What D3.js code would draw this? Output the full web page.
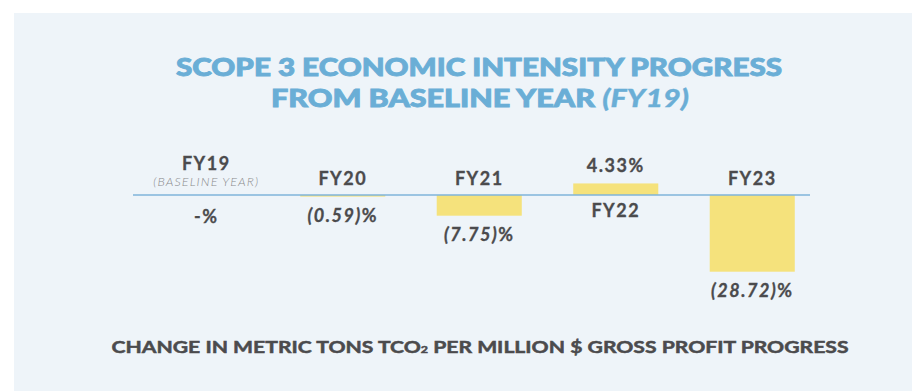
<!DOCTYPE html>
<html>
<head>
<meta charset="utf-8">
<script src="https://cdn.jsdelivr.net/npm/d3@7"></script>
<style>
  html, body { margin: 0; padding: 0; background: #fff; }
  svg { display: block; font-family: "Lato", "Open Sans", sans-serif; }
</style>
</head>
<body>
<svg id="chart" width="912" height="391"></svg>
<script>
var years = ['FY19', 'FY20', 'FY21', 'FY22', 'FY23']
var changes = [0, -0.59, -7.75, 4.33, -28.72]
var valueLabels = ['-', '(0.59)', '(7.75)', '4.33', '(28.72)']

var svg = d3.select('#chart'),
    width = +svg.attr('width'),
    height = +svg.attr('height'),
    axisY = 195,
    dark = '#4b4b4d',
    blue = '#6aaed6'

// panel
svg.append('rect')
    .attr('x', 14).attr('y', 13)
    .attr('width', width - 14).attr('height', height - 13)
    .attr('fill', '#eef4f9')

// title
var title = svg.append('g')
    .attr('fill', blue)
    .attr('stroke', blue).attr('stroke-width', 0.9)
    .attr('font-weight', 900)
    .attr('font-size', 25)
    .attr('text-anchor', 'middle')
title.append('text')
    .attr('x', 479).attr('y', 76)
    .attr('textLength', 606).attr('lengthAdjust', 'spacingAndGlyphs')
    .text('SCOPE 3 ECONOMIC INTENSITY PROGRESS')
var t2 = title.append('text')
    .attr('x', 480).attr('y', 107)
    .attr('textLength', 418).attr('lengthAdjust', 'spacingAndGlyphs')
t2.append('tspan').text('FROM BASELINE YEAR ')
t2.append('tspan').attr('font-style', 'italic').attr('stroke-width', 0.3).text('(FY19)')

var x = d3.scaleBand()
    .domain(years)
    .range([138, 820.5])
    .paddingInner(0.377)
    .paddingOuter(0.1885)

var y = d3.scaleLinear()
    .domain([-28.72, 0])
    .range([axisY + 76.7, axisY])

var data = years.map((d, i) => ({year: d, v: changes[i], label: valueLabels[i]}))

// bars
svg.append('g').selectAll('rect')
    .data(data.filter(d => d.v !== 0))
    .join('rect')
    .attr('x', d => x(d.year))
    .attr('width', x.bandwidth())
    .attr('y', d => Math.min(y(d.v), y(0)))
    .attr('height', d => Math.max(Math.abs(y(d.v) - y(0)), 1.6))
    .attr('fill', '#f5e27c')

// baseline
svg.append('line')
    .attr('x1', 133).attr('x2', 810)
    .attr('y1', axisY).attr('y2', axisY)
    .attr('stroke', '#7fb5da').attr('stroke-width', 1.3)

var labels = svg.append('g')
    .attr('fill', dark)
    .attr('stroke', dark).attr('stroke-width', 0.3)
    .attr('font-weight', 700)
    .attr('font-size', 18)
    .attr('letter-spacing', 1.5)
    .attr('text-anchor', 'middle')

data.forEach(function(d){
    var cx = x(d.year) + x.bandwidth() / 2
    if (d.v > 0) {
        labels.append('text').attr('x', cx).attr('y', y(d.v) - 11)
            .text(d.label + '%')
        labels.append('text').attr('x', cx).attr('y', axisY + 22)
            .text(d.year)
    } else if (d.v < 0) {
        labels.append('text').attr('x', cx).attr('y', axisY - 10)
            .text(d.year)
        var t = labels.append('text').attr('x', cx).attr('y', y(d.v) + 25.5)
        t.append('tspan').attr('font-style', 'italic').text(d.label)
        t.append('tspan').text('%')
    } else {
        labels.append('text').attr('x', cx).attr('y', 170)
            .text(d.year)
        labels.append('text').attr('x', cx).attr('y', 186)
            .attr('font-size', 12.5).attr('font-weight', 300)
            .attr('font-style', 'italic').attr('fill', '#8a8a8c')
            .attr('stroke', 'none')
            .attr('letter-spacing', 1.1)
            .text('(BASELINE YEAR)')
        labels.append('text').attr('x', cx).attr('y', 223)
            .text(d.label + '%')
    }
})

// caption
var cap = svg.append('text')
    .attr('x', 480).attr('y', 353)
    .attr('text-anchor', 'middle')
    .attr('fill', dark)
    .attr('stroke', dark).attr('stroke-width', 0.5)
    .attr('font-weight', 700)
    .attr('font-size', 17)
    .attr('textLength', 737).attr('lengthAdjust', 'spacingAndGlyphs')
cap.append('tspan').text('CHANGE IN METRIC TONS TCO')
cap.append('tspan').attr('font-size', 10).text('2')
cap.append('tspan').text(' PER MILLION $ GROSS PROFIT PROGRESS')
</script>
</body>
</html>
